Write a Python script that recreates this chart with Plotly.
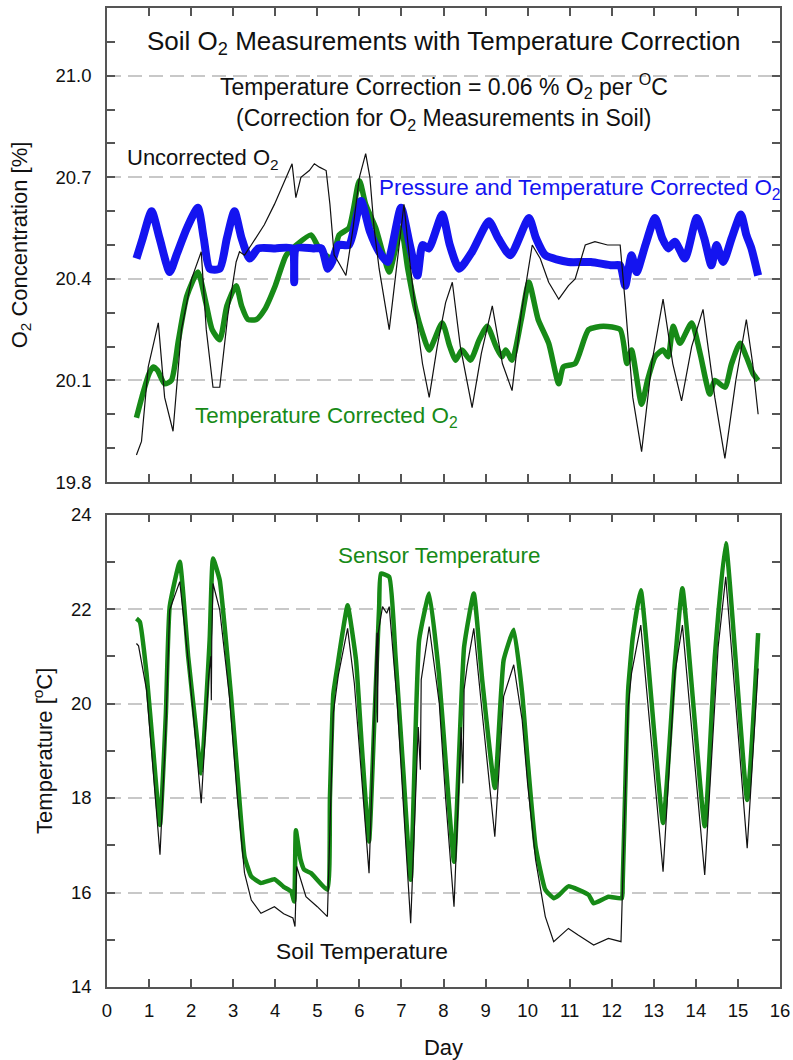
import plotly.graph_objects as go

# ---------------- data ----------------
# Top panel: O2 concentration [%]
unc_day = [0.70, 0.82, 0.98, 1.22, 1.37, 1.57, 1.77, 2.01, 2.24, 2.36, 2.52, 2.68, 2.87, 3.07, 3.15,
           3.27, 3.43, 3.74, 3.98, 4.22, 4.40, 4.49, 4.61, 4.81, 4.93, 5.05, 5.21, 5.30, 5.40, 5.50,
           5.68, 5.85, 6.00, 6.15, 6.25, 6.35, 6.47, 6.71, 6.85, 7.06, 7.20, 7.34, 7.50, 7.66, 7.85,
           8.05, 8.21, 8.40, 8.68, 8.90, 9.16, 9.40, 9.63, 9.85, 10.11, 10.30, 10.50, 10.74, 10.97,
           11.13, 11.37, 11.60, 11.90, 12.20, 12.32, 12.50, 12.71, 12.95, 13.22, 13.45, 13.66, 13.90,
           14.17, 14.45, 14.69, 14.95, 15.20, 15.35, 15.48]
unc_o2 = [19.88, 19.92, 20.14, 20.27, 20.05, 19.95, 20.25, 20.40, 20.48, 20.25, 20.08, 20.08, 20.29, 20.45, 20.48,
          20.47, 20.50, 20.56, 20.62, 20.69, 20.74, 20.64, 20.70, 20.72, 20.74, 20.73, 20.72, 20.62, 20.47, 20.45,
          20.41, 20.55, 20.70, 20.77, 20.70, 20.55, 20.43, 20.25, 20.40, 20.62, 20.45, 20.30, 20.15, 20.05, 20.20,
          20.33, 20.39, 20.20, 20.02, 20.18, 20.32, 20.15, 20.07, 20.30, 20.50, 20.46, 20.39, 20.34, 20.38,
          20.40, 20.50, 20.51, 20.50, 20.50, 20.33, 20.05, 19.89, 20.15, 20.34, 20.15, 20.04, 20.20,
          20.31, 20.05, 19.87, 20.10, 20.28, 20.15, 20.00]

tc_day = [0.70, 0.85, 1.00, 1.10, 1.20, 1.37, 1.53, 1.70, 1.90, 2.16, 2.35, 2.50, 2.68, 2.85, 3.07,
          3.20, 3.35, 3.55, 3.75, 4.00, 4.26, 4.50, 4.85, 5.00, 5.20, 5.35, 5.52, 5.75, 6.00, 6.15,
          6.39, 6.55, 6.71, 6.99, 7.15, 7.34, 7.50, 7.66, 7.97, 8.15, 8.29, 8.44, 8.64, 8.85, 9.04,
          9.25, 9.39, 9.48, 9.63, 9.85, 10.03, 10.25, 10.50, 10.74, 10.85, 11.13, 11.45, 11.80, 12.20,
          12.36, 12.47, 12.71, 12.85, 13.03, 13.22, 13.34, 13.46, 13.62, 13.90, 14.10, 14.33, 14.45,
          14.69, 14.85, 15.05, 15.20, 15.36, 15.48]
tc_o2 = [19.99, 20.06, 20.12, 20.14, 20.13, 20.09, 20.10, 20.22, 20.35, 20.42, 20.33, 20.25, 20.22, 20.32, 20.38,
         20.32, 20.28, 20.28, 20.31, 20.38, 20.47, 20.50, 20.53, 20.50, 20.47, 20.46, 20.53, 20.55, 20.69, 20.62,
         20.55, 20.48, 20.42, 20.55, 20.43, 20.31, 20.24, 20.19, 20.27, 20.20, 20.16, 20.19, 20.16, 20.22, 20.26,
         20.20, 20.17, 20.19, 20.16, 20.28, 20.39, 20.28, 20.21, 20.09, 20.14, 20.15, 20.25, 20.26, 20.25,
         20.15, 20.19, 20.03, 20.10, 20.17, 20.19, 20.17, 20.26, 20.21, 20.27, 20.18, 20.06, 20.10,
         20.08, 20.15, 20.21, 20.17, 20.12, 20.10]

ptc_day = [0.70, 0.85, 1.06, 1.25, 1.49, 1.65, 1.90, 2.16, 2.30, 2.44, 2.68, 2.85, 3.03, 3.20, 3.39,
           3.60, 4.00, 4.40, 4.45, 4.50, 4.90, 5.10, 5.25, 5.35, 5.50, 5.75, 6.04, 6.25, 6.47, 6.67,
           6.99, 7.20, 7.38, 7.50, 7.65, 7.97, 8.15, 8.37, 8.68, 9.08, 9.30, 9.59, 10.03, 10.20, 10.42,
           10.97, 11.50, 12.00, 12.20, 12.32, 12.47, 12.59, 12.80, 13.03, 13.20, 13.34, 13.50, 13.74,
           14.02, 14.20, 14.37, 14.49, 14.65, 14.85, 15.07, 15.20, 15.32, 15.48]
ptc_o2 = [20.46, 20.52, 20.60, 20.52, 20.42, 20.47, 20.55, 20.61, 20.52, 20.43, 20.43, 20.52, 20.60, 20.52, 20.46,
          20.49, 20.49, 20.49, 20.39, 20.49, 20.49, 20.49, 20.43, 20.45, 20.50, 20.50, 20.63, 20.54, 20.48, 20.45,
          20.61, 20.50, 20.41, 20.50, 20.49, 20.59, 20.50, 20.43, 20.48, 20.57, 20.52, 20.47, 20.58, 20.52, 20.47,
          20.45, 20.45, 20.44, 20.44, 20.38, 20.47, 20.42, 20.50, 20.58, 20.52, 20.49, 20.51, 20.46,
          20.58, 20.52, 20.44, 20.50, 20.45, 20.52, 20.59, 20.53, 20.49, 20.41]

# Bottom panel: temperature [°C]
sensor_day = [0.70, 0.78, 0.94, 1.10, 1.26, 1.40, 1.49, 1.73, 1.93, 2.10, 2.24, 2.44, 2.52, 2.68, 2.80,
              2.95, 3.10, 3.27, 3.43, 3.66, 3.98, 4.20, 4.38, 4.45, 4.49, 4.60, 4.69, 4.85, 5.24, 5.30,
              5.38, 5.48, 5.60, 5.72, 5.92, 6.05, 6.23, 6.35, 6.47, 6.51, 6.71, 6.86, 7.05, 7.22, 7.42,
              7.66, 7.89, 8.05, 8.25, 8.49, 8.72, 8.92, 9.22, 9.43, 9.67, 9.87, 10.00, 10.19, 10.42,
              10.62, 10.75, 10.97, 11.45, 11.57, 11.92, 12.24, 12.26, 12.33, 12.39, 12.50, 12.69, 13.22,
              13.50, 13.68, 14.21, 14.45, 14.71, 15.22, 15.48]
sensor_t = [21.80, 21.73, 20.64, 19.00, 17.43, 19.80, 22.05, 23.00, 20.99, 19.60, 18.52, 21.34, 23.07, 22.61, 21.60,
            20.15, 18.50, 16.76, 16.34, 16.20, 16.28, 16.12, 16.02, 15.81, 17.32, 16.70, 16.48, 16.41, 16.06, 18.00,
            20.20, 20.80, 21.50, 22.08, 20.92, 19.20, 17.08, 19.50, 22.05, 22.75, 22.68, 20.99, 18.50, 16.27, 21.34,
            22.33, 20.64, 18.80, 16.65, 21.20, 22.33, 20.50, 18.21, 20.92, 21.56, 20.22, 18.80, 16.97, 16.06,
            15.88, 15.95, 16.13, 15.95, 15.77, 15.91, 15.88, 16.20, 18.50, 20.29, 21.40, 22.40, 17.47,
            20.85, 22.44, 17.40, 20.99, 23.39, 17.96, 21.49]

soil_day = [0.70, 0.75, 0.94, 1.10, 1.26, 1.40, 1.49, 1.73, 1.93, 2.10, 2.24, 2.42, 2.47, 2.48, 2.49,
            2.52, 2.68, 2.91, 3.10, 3.27, 3.43, 3.66, 3.98, 4.20, 4.42, 4.47, 4.51, 4.73, 5.00, 5.24,
            5.30, 5.38, 5.50, 5.72, 5.88, 6.05, 6.23, 6.38, 6.42, 6.43, 6.45, 6.55, 6.65, 6.71, 6.90,
            7.05, 7.22, 7.40, 7.45, 7.47, 7.66, 7.90, 8.05, 8.25, 8.42, 8.46, 8.49, 8.56, 8.72, 8.92,
            9.22, 9.43, 9.67, 9.87, 10.00, 10.19, 10.42, 10.62, 10.97, 11.20, 11.57, 11.92, 12.22,
            12.30, 12.39, 12.47, 12.69, 13.22, 13.50, 13.68, 14.21, 14.53, 14.71, 15.22, 15.48]
soil_t = [21.27, 21.22, 20.29, 18.60, 16.80, 19.50, 21.98, 22.58, 20.92, 19.30, 17.89, 20.60, 21.00, 20.07, 21.30,
          22.54, 21.98, 20.15, 18.00, 16.41, 15.84, 15.56, 15.70, 15.55, 15.46, 15.28, 16.55, 15.91, 15.70, 15.49,
          17.50, 19.80, 20.60, 21.59, 20.43, 18.50, 16.41, 20.50, 21.50, 19.60, 21.50, 22.05, 21.91, 22.05, 20.00,
          17.80, 15.35, 19.50, 18.60, 20.50, 21.63, 20.00, 18.00, 15.70, 19.50, 18.31, 20.30, 20.78, 21.59, 19.80,
          17.18, 20.15, 20.82, 19.65, 18.30, 16.69, 15.49, 14.96, 15.24, 15.10, 14.89, 15.03, 14.96,
          17.50, 19.93, 20.64, 21.66, 16.44, 20.64, 21.66, 16.37, 21.20, 22.68, 16.94, 20.74]

x_ticks = list(range(0, 17))

# ---------------- styling ----------------
FONT = "Liberation Sans, Arial, Helvetica, sans-serif"
GREEN = "#178a17"
BLUE = "#1414f0"
FRAME = "#555555"
GRID = "#c8c8c8"

fig = go.Figure()

# top panel
fig.add_trace(go.Scatter(x=tc_day, y=tc_o2, mode="lines",
                         line=dict(color=GREEN, width=5.5, shape="spline", smoothing=0.6),
                         name="Temperature Corrected O2", xaxis="x", yaxis="y"))
fig.add_trace(go.Scatter(x=ptc_day, y=ptc_o2, mode="lines",
                         line=dict(color=BLUE, width=8, shape="spline", smoothing=0.6),
                         name="Pressure and Temperature Corrected O2", xaxis="x", yaxis="y"))
fig.add_trace(go.Scatter(x=unc_day, y=unc_o2, mode="lines", line=dict(color="#111111", width=1.2),
                         name="Uncorrected O2", xaxis="x", yaxis="y"))
# bottom panel
fig.add_trace(go.Scatter(x=sensor_day, y=sensor_t, mode="lines",
                         line=dict(color=GREEN, width=4.5, shape="spline", smoothing=0.4),
                         name="Sensor Temperature", xaxis="x2", yaxis="y2"))
fig.add_trace(go.Scatter(x=soil_day, y=soil_t, mode="lines", line=dict(color="#111111", width=1.2),
                         name="Soil Temperature", xaxis="x2", yaxis="y2"))

common_x = dict(range=[0, 16], tickvals=x_ticks, ticks="inside", ticklen=8, tickwidth=1.5,
                tickcolor=FRAME, showline=True, linecolor=FRAME, linewidth=1.5, mirror="ticks",
                showgrid=False, zeroline=False, automargin=False)

fig.update_layout(
    width=793, height=1060, autosize=False,
    paper_bgcolor="white", plot_bgcolor="white",
    margin=dict(l=107, r=13, t=8, b=73, pad=0, autoexpand=False),
    showlegend=False,
    font=dict(family=FONT, size=18, color="#111111"),
    xaxis=dict(domain=[0, 1], anchor="y", showticklabels=False, **common_x),
    xaxis2=dict(domain=[0, 1], anchor="y2", matches="x", showticklabels=True,
                tickfont=dict(size=18.5), ticklabelstandoff=6,
                title=dict(text="Day", font=dict(size=22), standoff=20), **common_x),
    yaxis=dict(domain=[0.5158, 1.0], range=[19.8, 21.2], tick0=19.8, dtick=0.3, tickformat=".1f",
               ticks="inside", ticklen=8, tickwidth=1.5, tickcolor=FRAME,
               showline=True, linecolor=FRAME, linewidth=1.5, mirror="ticks", automargin=False,
               showgrid=True, gridcolor=GRID, gridwidth=1.5, griddash="14px,7px", zeroline=False,
               minor=dict(tick0=19.8, dtick=0.1, ticks="inside", ticklen=8, tickwidth=1.5,
                          tickcolor=FRAME, showgrid=False),
               tickfont=dict(size=18.5), ticklabelstandoff=10,
               title=dict(text="O<sub>2</sub> Concentration [%]", font=dict(size=22), standoff=22)),
    yaxis2=dict(domain=[0, 0.4826], range=[14, 24], tick0=14, dtick=2,
                ticks="inside", ticklen=8, tickwidth=1.5, tickcolor=FRAME,
                showline=True, linecolor=FRAME, linewidth=1.5, mirror="ticks", automargin=False,
                showgrid=True, gridcolor=GRID, gridwidth=1.5, griddash="14px,7px", zeroline=False,
                minor=dict(tick0=14, dtick=1, ticks="inside", ticklen=8, tickwidth=1.5,
                           tickcolor=FRAME, showgrid=False),
                tickfont=dict(size=18.5), ticklabelstandoff=10,
                title=dict(text="Temperature [<sup>o</sup>C]", font=dict(size=22), standoff=12)),
)

annotations = [
    dict(text="Soil O<sub>2</sub> Measurements with Temperature Correction", x=8.0, y=21.098,
         xref="x", yref="y", xanchor="center", yanchor="middle", font=dict(size=26)),
    dict(text="Temperature Correction = 0.06 % O<sub>2</sub> per <sup>O</sup>C", x=8.0, y=20.971,
         xref="x", yref="y", xanchor="center", yanchor="middle", font=dict(size=23)),
    dict(text="(Correction for O<sub>2</sub> Measurements in Soil)", x=8.0, y=20.871,
         xref="x", yref="y", xanchor="center", yanchor="middle", font=dict(size=23)),
    dict(text="Uncorrected O<sub>2</sub>", x=0.43, y=20.753, xref="x", yref="y",
         xanchor="left", yanchor="middle", font=dict(size=22)),
    dict(text="Pressure and Temperature Corrected O<sub>2</sub>", x=6.42, y=20.664, xref="x", yref="y",
         xanchor="left", yanchor="middle", font=dict(size=22.4, color=BLUE)),
    dict(text="Temperature Corrected O<sub>2</sub>", x=2.04, y=19.993, xref="x", yref="y",
         xanchor="left", yanchor="middle", font=dict(size=22.4, color=GREEN)),
    dict(text="Sensor Temperature", x=5.45, y=23.14, xref="x2", yref="y2",
         xanchor="left", yanchor="middle", font=dict(size=22.4, color=GREEN)),
    dict(text="Soil Temperature", x=3.98, y=14.77, xref="x2", yref="y2",
         xanchor="left", yanchor="middle", font=dict(size=22.8)),
]
for a in annotations:
    a["showarrow"] = False
fig.update_layout(annotations=annotations)

fig.write_html(
    "out.html",
    config={"displayModeBar": False},
    post_script="document.body.style.margin='0';document.body.style.overflow='hidden';",
)
